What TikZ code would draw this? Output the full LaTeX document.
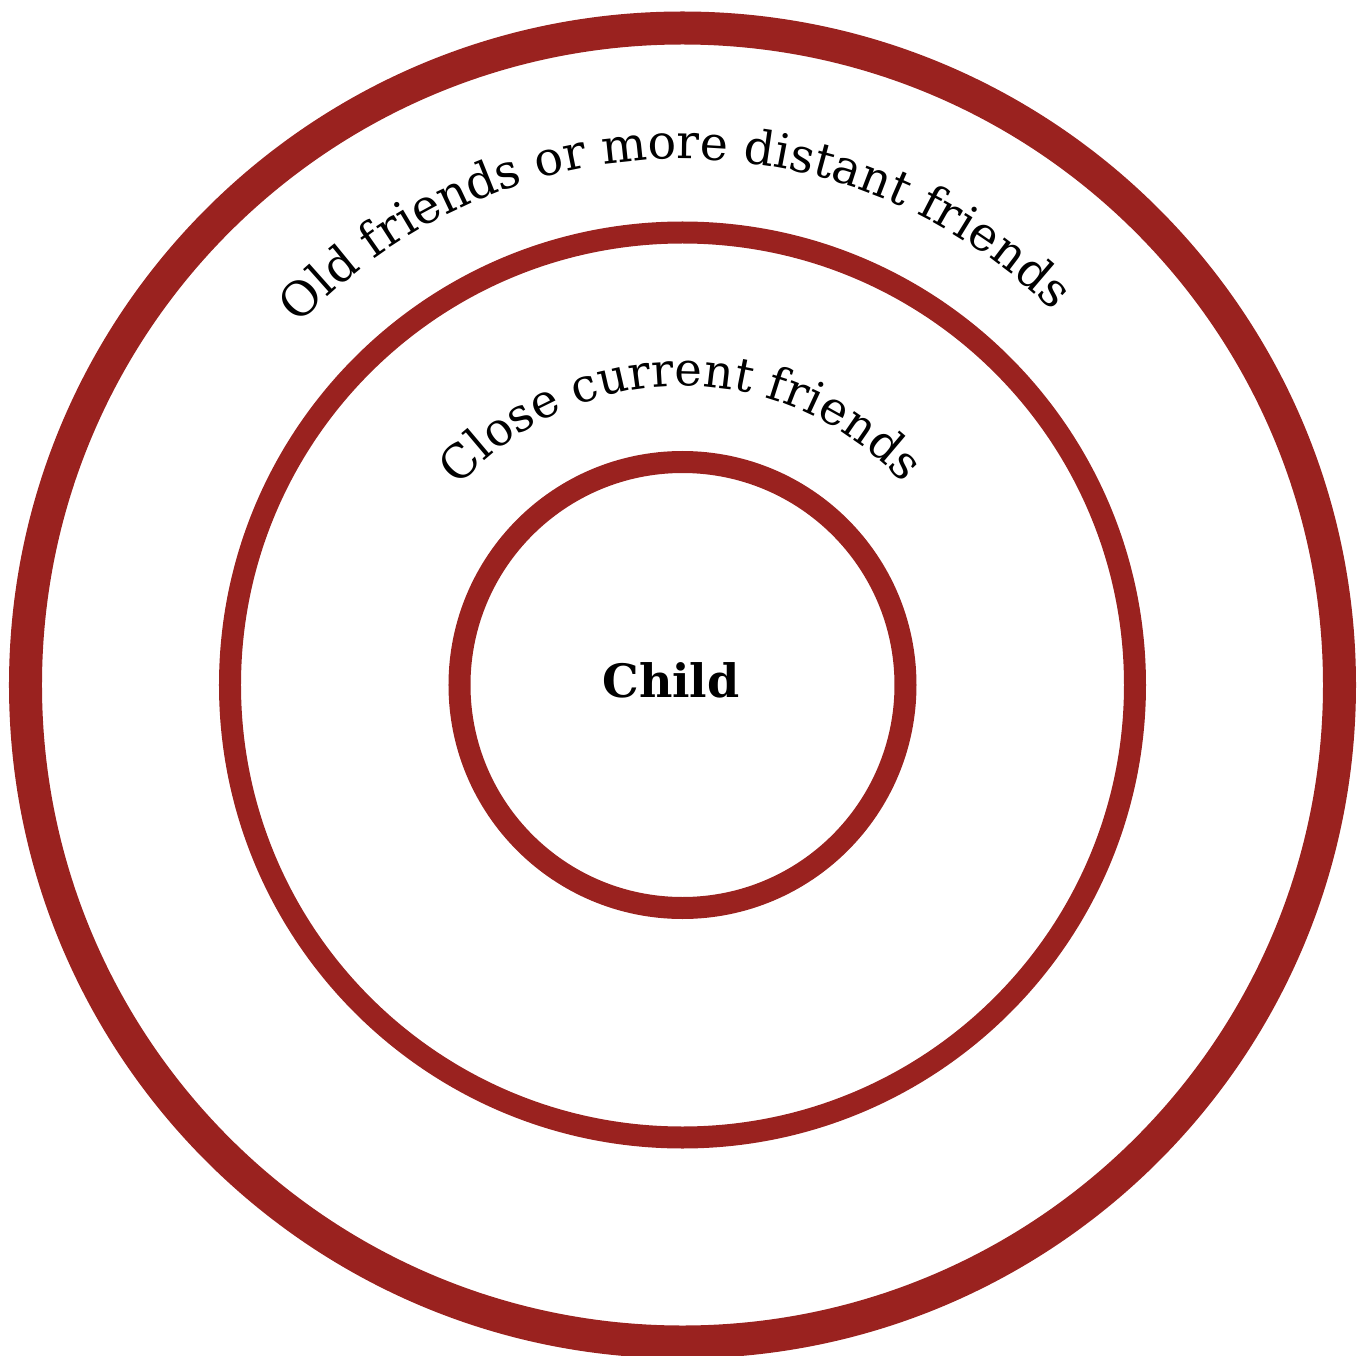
\documentclass[tikz,border=0pt]{standalone}
\usepackage{fontspec}
\setmainfont{DejaVu Serif}
\usetikzlibrary{decorations.text}
\definecolor{ringred}{RGB}{154,34,31}
\begin{document}
\begin{tikzpicture}[x=1pt,y=1pt,
  ring/.style={draw=ringred},
  arclabel/.style={decorate, decoration={text along path, text align=center}}]
\useasboundingbox (-682.5,-670) rectangle (682.5,685);
\coordinate (c) at (0,0);
\draw[ring, line width=33pt] (c) circle[radius=657];
\draw[ring, line width=22pt] (c) circle[radius=452.5];
\draw[ring, line width=22pt] (c) circle[radius=223];
\node[anchor=base, inner sep=0pt, font=\fontsize{46}{52}\selectfont\bfseries] (child) at (-11.5,-12) {Child};
\path[arclabel, decoration={text={|\fontsize{47.5}{52}\selectfont|Old friends or more distant friends}}]
  (171:526) arc[start angle=171, end angle=11, radius=526];
\path[arclabel, decoration={text={|\fontsize{46.5}{52}\selectfont|Close current friends}}]
  (170.4:299) arc[start angle=170.4, end angle=10.4, radius=299];
\end{tikzpicture}
\end{document}
